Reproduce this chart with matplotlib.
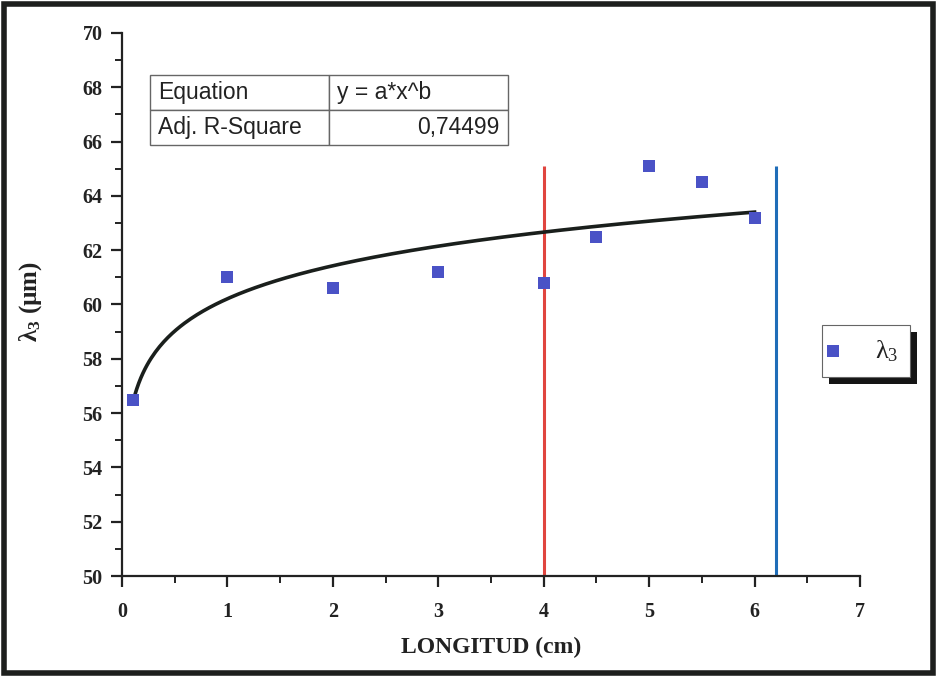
import numpy as np
import matplotlib
matplotlib.use("Agg")
import matplotlib.pyplot as plt
from matplotlib.patches import Rectangle

# Measured wavelength lambda_3 along the sample length
longitud_cm = [0.1, 1.0, 2.0, 3.0, 4.0, 4.5, 5.0, 5.5, 6.0]
lambda3_um = [56.5, 61.0, 60.6, 61.2, 60.8, 62.5, 65.1, 64.5, 63.2]

# Reference positions (vertical markers)
red_line_x = 4.0
blue_line_x = 6.2
marker_line_top = 65.1

table_rows = [["Equation", "y = a*x^b"], ["Adj. R-Square", "0,74499"]]

x_ticks = [0, 1, 2, 3, 4, 5, 6, 7]
y_ticks = [50, 52, 54, 56, 58, 60, 62, 64, 66, 68, 70]

# Power-law fit y = a*x^b via Gauss-Newton, seeded from a log-log fit
x = np.array(longitud_cm)
y = np.array(lambda3_um)
b, ln_a = np.polyfit(np.log(x), np.log(y), 1)
a = np.exp(ln_a)
for _ in range(50):
    f = a * x ** b
    J = np.column_stack([x ** b, a * x ** b * np.log(x)])
    step, *_ = np.linalg.lstsq(J, y - f, rcond=None)
    a += step[0]
    b += step[1]
x_fit = np.linspace(x.min(), x.max(), 300)
y_fit = a * x_fit ** b

plt.rcParams["mathtext.fontset"] = "custom"
plt.rcParams["mathtext.rm"] = "Liberation Serif"
plt.rcParams["mathtext.it"] = "Liberation Serif:italic"
plt.rcParams["mathtext.bf"] = "Liberation Serif:bold"

serif = ["Liberation Serif", "DejaVu Serif"]
sans = ["Liberation Sans", "DejaVu Sans"]
ink = "#222222"

W, H = 937, 677
fig = plt.figure(figsize=(W / 100, H / 100), dpi=100)
ax = fig.add_axes([122 / W, 1 - 576 / H, 738 / W, 543 / H])

ax.plot(x_fit, y_fit, color="#1a1f1c", lw=2.6, zorder=3)
ax.vlines(red_line_x, 50, marker_line_top, color="#e0453f", lw=2.2, zorder=2)
ax.vlines(blue_line_x, 50, marker_line_top, color="#1f6db8", lw=2.2, zorder=2)
ax.scatter(longitud_cm, lambda3_um, marker="s", s=64, color="#4a52c6",
           label=r"λ$_\mathrm{3}$", zorder=4, linewidths=0)

ax.set_xlim(0, 7)
ax.set_ylim(50, 70)
ax.set_xticks(x_ticks)
ax.set_yticks(y_ticks)
ax.set_xticks(np.arange(0.5, 7, 1.0), minor=True)
ax.set_yticks(np.arange(51, 70, 2), minor=True)
for side in ("top", "right"):
    ax.spines[side].set_visible(False)
for side in ("left", "bottom"):
    ax.spines[side].set_linewidth(1.6)
    ax.spines[side].set_color(ink)
ax.tick_params(which="major", direction="out", length=8, width=1.6,
               color=ink, labelsize=14.5, pad=6)
ax.tick_params(which="minor", direction="out", length=5, width=1.4,
               color=ink)
for lab in ax.get_xticklabels() + ax.get_yticklabels():
    lab.set_family(serif)
    lab.set_fontweight("bold")
    lab.set_color(ink)
ax.tick_params(axis="x", pad=11)

ax.set_xlabel("LONGITUD (cm)", family=serif, fontweight="bold", fontsize=17,
              color=ink)
ax.xaxis.set_label_coords(0.5, (576 - 637) / 543)
ax.set_ylabel(r"λ$_\mathbf{3}$ (µm)", family=serif, fontweight="bold",
              fontsize=18, color=ink)
ax.yaxis.set_label_coords((44 - 122) / 738, (576 - 302) / 543)

# Fit summary table
tbl = ax.table(cellText=table_rows, cellLoc="left",
               bbox=[28 / 738, (576 - 145) / 543, 358 / 738, 70 / 543])
tbl.auto_set_font_size(False)
for (r, c), cell in tbl.get_celld().items():
    cell.set_edgecolor("#666666")
    cell.set_linewidth(1.0)
    cell.get_text().set_fontsize(16.5)
    cell.get_text().set_family(sans)
    cell.get_text().set_color(ink)
    cell.PAD = 0.045
    if r == 1 and c == 1:
        cell.get_text().set_horizontalalignment("right")
        cell._loc = "right"

# Legend box with a solid drop shadow, right of the plot
lx0, ly0, lx1, ly1 = 822, 325, 910, 377
ax.add_patch(Rectangle(((lx0 + 7) / W, 1 - (ly1 + 7) / H),
                       (lx1 - lx0) / W, (ly1 - ly0) / H,
                       transform=fig.transFigure, facecolor="#151515",
                       edgecolor="none", zorder=5, clip_on=False))
ax.add_patch(Rectangle((lx0 / W, 1 - ly1 / H),
                       (lx1 - lx0) / W, (ly1 - ly0) / H,
                       transform=fig.transFigure, facecolor="white",
                       edgecolor="#666666", linewidth=0.8, zorder=6,
                       clip_on=False))
leg = ax.legend(loc="center left", bbox_to_anchor=(820 / W,
                                                  1 - 351 / H),
                bbox_transform=fig.transFigure, frameon=False,
                handlelength=1.0, handletextpad=1.1, borderpad=0.0,
                borderaxespad=0.0, prop={"family": serif, "size": 19})
leg.set_zorder(7)
for t in leg.get_texts():
    t.set_color(ink)

# Outer frame around the whole figure
fig.patches.append(Rectangle((0.004, 0.006), 0.992, 0.988,
                             transform=fig.transFigure, fill=False,
                             edgecolor="#1d1f1d", linewidth=4))

fig.savefig("out.png", dpi=100)
